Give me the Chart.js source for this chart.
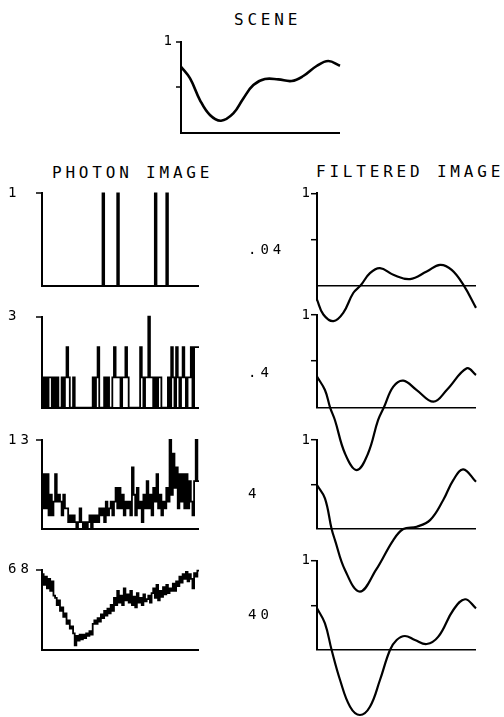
<!DOCTYPE html>
<html>
<head>
<meta charset="utf-8">
<script src="https://cdn.jsdelivr.net/npm/chart.js@4.4.1/dist/chart.umd.min.js"></script>
<style>
  body { margin: 0; background: #fff; }
  #page { position: relative; width: 504px; height: 717px; overflow: hidden; font-family: 'DejaVu Sans Mono', monospace; color: #000; }
  #page canvas { position: absolute; left: 0; top: 0; }
  .lbl { position: absolute; white-space: nowrap; }
  .title { font-size: 16px; line-height: 16px; letter-spacing: 3.8px; }
  .num { font-size: 14px; line-height: 14px; letter-spacing: 4px; }
</style>
</head>
<body>
<div id="page">
  <div class="lbl title" style="left:234px; top:11.5px">SCENE</div>
  <div class="lbl title" style="left:52px; top:164.5px">PHOTON IMAGE</div>
  <div class="lbl title" style="left:316px; top:163.7px">FILTERED IMAGE</div>
</div>
<script>
// data block
// scene intensity, x in percent of the scan line
const sceneX = [0, 5.7, 11.9, 18.2, 25.2, 32.9, 39.2, 45.5, 52.8, 61.2, 69.6, 76.9, 85.3, 92.6, 100];
const sceneY = [0.725, 0.597, 0.359, 0.194, 0.132, 0.212, 0.377, 0.524, 0.590, 0.586, 0.568, 0.623, 0.733, 0.788, 0.736];

// photon counts per bin (96 bins)
const photonMax = [1, 3, 13, 68];
const photon1 = [0,0,0,0,0,0,0,0,0,0,0,0,0,0,0,0,0,0,0,0,0,0,0,0,0,0,0,0,0,0,0,0,0,0,0,0,0,1,0,0,0,0,0,0,0,0,1,0,0,0,0,0,0,0,0,0,0,0,0,0,0,0,0,0,0,0,0,0,0,1,0,0,0,0,0,0,1,0,0,0,0,0,0,0,0,0,0,0,0,0,0,0,0,0,0,0];
const photon2 = [1,0,1,0,1,1,0,1,0,1,0,0,1,0,1,2,1,0,0,1,0,
  0,0,0,0,0,0,0,0,0,0,
  1,0,1,2,0,0,0,1,0,1,0,0,
  1,2,1,1,1,0,1,1,2,1,
  0,0,0,0,0,0,0,
  2,1,0,1,1,3,1,1,0,1,0,1,1,0,
  0,0,0,
  1,0,2,1,0,2,1,0,1,2,1,0,1,1,2,0,2,2,2];
const photon3 = [3,8,3,8,2,5,2,4,8,4,5,4,2,5,3,3,1,2,1,2,1,0,1,3,1,0,1,0,
  1,2,0,2,1,2,1,3,2,3,1,4,2,3,4,2,4,6,3,6,3,5,2,4,3,4,2,9,5,2,6,3,
  4,1,5,3,7,3,5,2,6,4,8,3,5,2,4,3,6,4,13,5,11,6,9,3,8,4,8,3,8,3,7,4,2,7,13,7];
const photon4 = [64,55,62,52,60,50,58,46,44,38,42,33,36,28,31,22,25,18,20,14,4,12,8,13,
  9,13,10,14,12,16,13,22,25,22,27,24,30,27,33,29,35,31,38,33,44,38,50,40,
  46,38,52,42,47,40,50,38,45,36,48,40,44,38,47,41,43,46,40,48,52,44,55,42,
  50,45,53,47,55,48,52,50,56,50,58,54,62,57,64,60,66,58,64,60,52,65,62,67];
const photons = [photon1, photon2, photon3, photon4];

// filtered images, same x range as the scene
const filterStrength = ['.04', '.4', '4', '40'];
const filteredX1 = [0, 4.0, 10.3, 16.5, 22.8, 27.5, 33.3, 39.6, 48.0, 58.5, 69.0, 77.4, 84.7, 92.0, 100];
const filteredY1 = [-0.151, -0.312, -0.384, -0.294, -0.079, 0.004, 0.136, 0.190, 0.118, 0.072, 0.154, 0.226, 0.172, 0.011, -0.240];
const filteredX2 = [0, 5.0, 8.2, 11.3, 17.6, 25.0, 32.1, 38.4, 42.1, 48.0, 54.3, 62.7, 73.2, 81.6, 94.2, 100];
const filteredY2 = [0.332, 0.187, 0, -0.14, -0.50, -0.68, -0.50, -0.14, 0, 0.224, 0.289, 0.187, 0.061, 0.187, 0.422, 0.350];
const filteredX3 = [0, 5.0, 9.2, 11.3, 17.6, 27.0, 37.1, 48.0, 54.3, 62.7, 71.1, 79.4, 85.7, 92.0, 100];
const filteredY3 = [0.494, 0.345, 0, -0.124, -0.46, -0.704, -0.46, -0.124, 0, 0.026, 0.10, 0.326, 0.55, 0.67, 0.53];
const filteredX4 = [0, 5.0, 9.2, 14.5, 20.8, 27.0, 33.3, 39.6, 45.9, 50.1, 55.3, 61.6, 69.0, 76.3, 85.7, 93.1, 100];
const filteredY4 = [0.467, 0.299, 0, -0.336, -0.635, -0.728, -0.635, -0.336, 0, 0.112, 0.157, 0.112, 0.067, 0.149, 0.448, 0.568, 0.467];
const filteredXs = [filteredX1, filteredX2, filteredX3, filteredX4];
const filteredYs = [filteredY1, filteredY2, filteredY3, filteredY4];

// layout block (pixels)
const W = 504, H = 717;
const page = document.getElementById('page');
const photonTop = [193.3, 316.7, 440, 569.5];
const photonBottom = [286, 407.7, 529, 650];
const filteredTop = [193.3, 315, 440, 560.7];
const filteredZero = [285.7, 407.3, 529, 650];
const filteredMin = [-0.155, 0, 0, 0];
const strengthTop = [242, 365, 486, 606.5];

// monospaced plotter look for tick labels
const spacing = {
  id: 'spacing',
  beforeDraw(chart) { chart.ctx.letterSpacing = '4px'; }
};

function xy(xs, ys) {
  return xs.map((x, i) => ({x: x, y: ys[i]}));
}

function makePanel(p) {
  const canvas = document.createElement('canvas');
  canvas.width = W;
  canvas.height = H;
  page.appendChild(canvas);
  return new Chart(canvas, {
    type: 'line',
    data: { datasets: [p.dataset] },
    options: {
      responsive: false,
      animation: false,
      events: [],
      layout: { padding: { left: p.labelLeft, top: p.top, right: W - p.right, bottom: H - p.bottom } },
      plugins: { legend: { display: false }, tooltip: { enabled: false } },
      elements: { point: { radius: 0 } },
      scales: {
        x: { type: 'linear', display: false, min: p.xMin, max: p.xMax },
        y: {
          min: p.yMin,
          max: p.yMax,
          afterFit: s => { s.width = p.axisX - p.labelLeft; },
          afterBuildTicks: s => { s.ticks = p.ticks.map(v => ({value: v})); },
          border: { display: true, color: '#000', width: 2 },
          grid: {
            color: c => (c.tick && c.tick.value === 0) ? '#000' : 'rgba(0,0,0,0)',
            lineWidth: p.baseWidth,
            tickColor: c => (c.tick && c.tick.value === 0) ? 'rgba(0,0,0,0)' : '#000',
            tickLength: p.tickLength,
            tickWidth: 1.5
          },
          ticks: {
            autoSkip: false,
            crossAlign: 'far',
            color: '#000',
            font: { family: 'DejaVu Sans Mono', size: 14 },
            callback: v => v === p.yMax ? String(p.yMax) : ''
          }
        }
      }
    },
    plugins: [spacing]
  });
}

// scene
makePanel({
  labelLeft: 163.5, axisX: 181, right: 340, top: 41.7, bottom: 132.7,
  xMin: 0, xMax: 100, yMin: 0, yMax: 1, ticks: [0, 0.5, 1], tickLength: 5, baseWidth: 2,
  dataset: { data: xy(sceneX, sceneY), borderColor: '#000', borderWidth: 2.6, tension: 0.4, clip: false }
});

// photon images
photons.forEach((counts, k) => {
  const pts = counts.map((v, i) => ({x: i, y: v}));
  pts.push({x: counts.length, y: counts[counts.length - 1]});
  makePanel({
    labelLeft: 8, axisX: 42, right: 199, top: photonTop[k], bottom: photonBottom[k],
    xMin: 0, xMax: counts.length, yMin: 0, yMax: photonMax[k], ticks: [0, photonMax[k]], tickLength: 6, baseWidth: 2,
    dataset: { data: pts, stepped: 'before', borderColor: '#000', borderWidth: 1.8, borderJoinStyle: 'miter', clip: false }
  });
});

// filtered images
filteredXs.forEach((xs, k) => {
  const unit = filteredZero[k] - filteredTop[k];
  makePanel({
    labelLeft: 301.5, axisX: 317, right: 476, top: filteredTop[k], bottom: filteredZero[k] - filteredMin[k] * unit,
    xMin: 0, xMax: 100, yMin: filteredMin[k], yMax: 1, ticks: [0, 0.5, 1], tickLength: 6, baseWidth: 1.4,
    dataset: { data: xy(xs, filteredYs[k]), borderColor: '#000', borderWidth: 2.2, tension: 0.4, clip: false }
  });
  const d = document.createElement('div');
  d.className = 'lbl num';
  d.style.left = '248px';
  d.style.top = strengthTop[k] + 'px';
  d.textContent = filterStrength[k];
  page.appendChild(d);
});
</script>
</body>
</html>
